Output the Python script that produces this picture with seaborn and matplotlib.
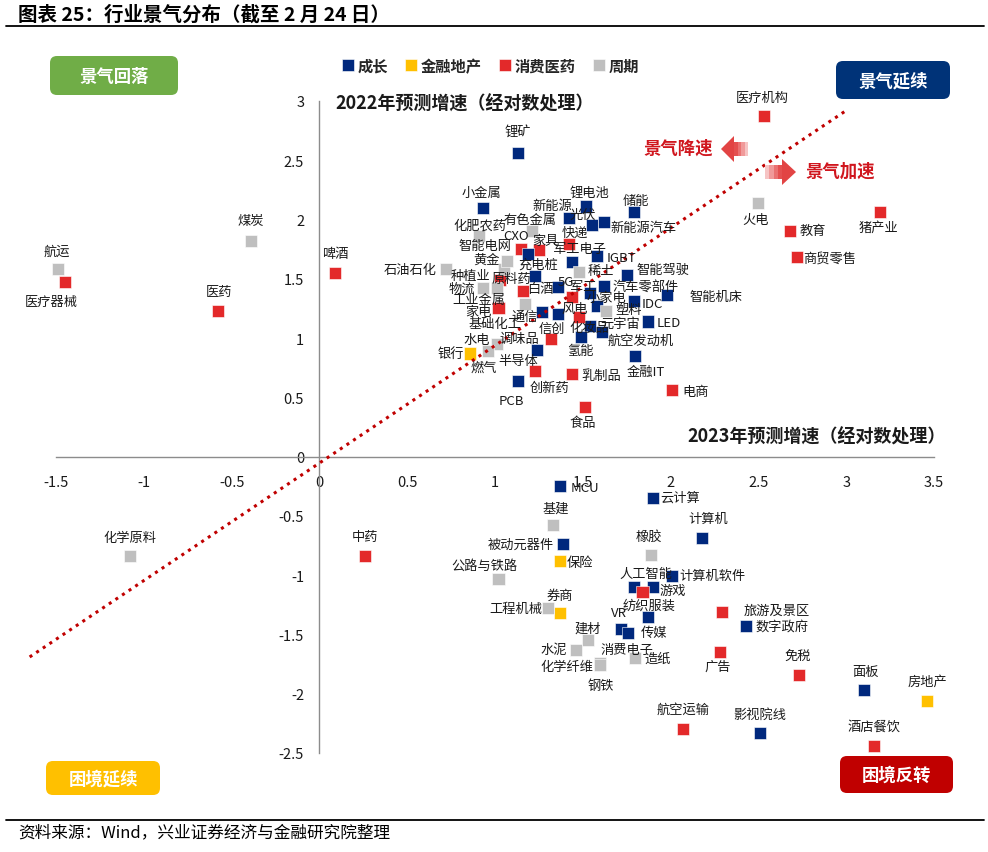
import matplotlib
matplotlib.use('Agg')
import matplotlib.pyplot as plt
from matplotlib.patches import FancyBboxPatch, Polygon
import seaborn as sns
import pandas as pd

# 行业景气分布 (截至2月24日)
names = ['医疗机构', '火电', '猪产业', '教育', '商贸零售', '锂矿', '小金属', '锂电池', '储能', '新能源',
         '光伏', '新能源汽车', '快递', '军工电子', 'IGBT', '稀土', '智能驾驶', '汽车零部件', '军工', '小家电',
         '风电', '塑料', 'IDC', '智能机床', 'LED', '元宇宙', '航空发动机', '化妆品', '信创', '通信',
         '白酒', '5G', '充电桩', '原料药', '种植业', '物流', '工业金属', '基础化工', '家电', '化肥农药',
         '有色金属', 'CXO', '家具', '智能电网', '黄金', '石油石化', '啤酒', '煤炭', '医药', '航运',
         '医疗器械', '银行', '水电', '燃气', '调味品', '半导体', '创新药', 'PCB', '乳制品', '氢能',
         '食品', '金融IT', '电商', 'MCU', '云计算', '基建', '计算机', '被动元器件', '橡胶', '保险',
         '公路与铁路', '计算机软件', '人工智能', '游戏', '纺织服装', '传媒', 'VR', '消费电子', '券商', '工程机械',
         '建材', '水泥', '化学纤维', '造纸', '钢铁', '化学原料', '中药', '旅游及景区', '数字政府', '广告',
         '免税', '面板', '房地产', '航空运输', '影视院线', '酒店餐饮']

growth_2023 = [2.53, 2.50, 3.19, 2.68, 2.72, 1.13, 0.93, 1.52, 1.79, 1.42,
               1.55, 1.62, 1.42, 1.44, 1.58, 1.48, 1.75, 1.62, 1.54, 1.44,
               1.58, 1.63, 1.79, 1.98, 1.87, 1.54, 1.61, 1.48, 1.36, 1.27,
               1.16, 1.36, 1.23, 1.03, 1.05, 0.93, 1.01, 1.17, 1.02, 0.91,
               1.21, 1.15, 1.25, 1.19, 1.07, 0.72, 0.09, -0.39, -0.58, -1.49,
               -1.45, 0.86, 1.01, 0.96, 1.32, 1.24, 1.23, 1.13, 1.44, 1.49,
               1.51, 1.80, 2.01, 1.37, 1.90, 1.33, 2.18, 1.39, 1.89, 1.37,
               1.02, 2.01, 1.79, 1.90, 1.84, 1.87, 1.72, 1.76, 1.37, 1.30,
               1.53, 1.46, 1.60, 1.80, 1.60, -1.08, 0.26, 2.29, 2.43, 2.28,
               2.73, 3.10, 3.46, 2.07, 2.51, 3.16]

growth_2022 = [2.87, 2.14, 2.06, 1.90, 1.68, 2.56, 2.10, 2.11, 2.06, 2.01,
               1.95, 1.98, 1.79, 1.64, 1.69, 1.56, 1.53, 1.44, 1.38, 1.35,
               1.27, 1.23, 1.31, 1.36, 1.14, 1.10, 1.05, 1.18, 1.20, 1.22,
               1.40, 1.43, 1.52, 1.49, 1.58, 1.42, 1.42, 1.29, 1.25, 1.86,
               1.90, 1.75, 1.74, 1.71, 1.65, 1.58, 1.55, 1.82, 1.23, 1.58,
               1.47, 0.87, 0.95, 0.89, 0.99, 0.90, 0.72, 0.64, 0.70, 1.01,
               0.42, 0.85, 0.56, -0.25, -0.35, -0.58, -0.69, -0.74, -0.83, -0.88,
               -1.03, -1.01, -1.10, -1.10, -1.14, -1.35, -1.45, -1.49, -1.32, -1.28,
               -1.55, -1.63, -1.74, -1.70, -1.76, -0.84, -0.84, -1.31, -1.43, -1.65,
               -1.84, -1.97, -2.06, -2.30, -2.33, -2.44]

# G=成长 F=金融地产 C=消费医药 P=周期
group_codes = ['C', 'P', 'C', 'C', 'C', 'G', 'G', 'G', 'G', 'G',
               'G', 'G', 'C', 'G', 'G', 'P', 'G', 'G', 'G', 'C',
               'G', 'P', 'G', 'G', 'G', 'G', 'G', 'C', 'G', 'G',
               'C', 'G', 'G', 'C', 'P', 'P', 'P', 'P', 'C', 'P',
               'P', 'C', 'C', 'G', 'P', 'P', 'C', 'P', 'C', 'P',
               'C', 'F', 'P', 'P', 'C', 'G', 'C', 'G', 'C', 'G',
               'C', 'G', 'C', 'G', 'G', 'P', 'G', 'G', 'P', 'F',
               'P', 'G', 'G', 'G', 'C', 'G', 'G', 'G', 'F', 'P',
               'P', 'P', 'P', 'P', 'P', 'P', 'C', 'C', 'G', 'C',
               'C', 'G', 'F', 'C', 'G', 'C']

group_names = {'G': '成长', 'F': '金融地产', 'C': '消费医药', 'P': '周期'}
hue_order = ['成长', '金融地产', '消费医药', '周期']
palette = {'成长': '#00287D', '金融地产': '#FFC000', '消费医药': '#E3292A', '周期': '#BFBFBF'}

# label offsets from the marker, in pixels (dx, dy)
label_offsets = [(-1, 19), (-3, -17), (-1, -15), (23, 1), (33, -1), (0, 21), (-1, 15), (3, 14), (2, 12), (-16, 13),
                 (-9, 11), (40, -6), (6, 12), (7, 14), (25, -1), (22, 1), (36, 6), (42, 0), (-7, 7), (34, -1),
                 (-22, -2), (23, 1), (19, -2), (49, -1), (21, -1), (30, 3), (39, -8), (10, -11), (-6, -14), (-18, -4),
                 (17, 2), (8, 6), (3, 12), (11, 2), (-33, -6), (-21, 0), (-18, -11), (-30, -20), (-20, -3), (1, 11),
                 (-2, 12), (-5, 14), (7, 10), (-43, 8), (-21, 2), (-36, 0), (0, 19), (0, 20), (1, 19), (-1, 18),
                 (-14, -19), (-20, 0), (-20, 5), (-4, -16), (-32, 1), (-19, -11), (14, -16), (-6, -20), (29, -2), (-1, -14),
                 (-2, -16), (10, -16), (23, -1), (25, -1), (27, 1), (3, 17), (6, 20), (-43, 0), (-2, 19), (20, -2),
                 (-14, 13), (40, 1), (12, 14), (20, -3), (7, -13), (6, -16), (-2, 16), (-1, -16), (0, 18), (-32, 0),
                 (0, 12), (-22, 0), (-33, -4), (22, 0), (0, -20), (0, 19), (0, 20), (55, 2), (36, 0), (-2, -14),
                 (-1, 19), (2, 19), (0, 20), (0, 20), (0, 19), (0, 20)]

df = pd.DataFrame({'name': names, 'x': growth_2023, 'y': growth_2022,
                   'group': [group_names[g] for g in group_codes]})

sns.set_theme(style='white')
plt.rcParams['font.family'] = ['Noto Sans CJK SC', 'DejaVu Sans']
plt.rcParams['axes.unicode_minus'] = False

W, H = 988, 853
fig = plt.figure(figsize=(W / 100, H / 100), dpi=100)
ax = fig.add_axes([56 / W, 1 - 754 / H, 878 / W, 652 / H])


def fx(px):
    return px / W


def fy(py):
    return 1 - py / H


sns.scatterplot(data=df, x='x', y='y', hue='group', hue_order=hue_order, palette=palette,
                marker='s', s=75, edgecolor='white', linewidth=0.4, ax=ax, zorder=2, clip_on=False)

# diagonal
ax.plot([-1.65, 2.99], [-1.69, 2.91], linestyle=(0, (1, 1.6)), color='#C00000', lw=2.2,
        zorder=3, clip_on=False)

for name, xv, yv, (dx, dy) in zip(names, growth_2023, growth_2022, label_offsets):
    ax.annotate(name, (xv, yv), xytext=(dx, dy), textcoords='offset pixels',
                ha='center', va='center', fontsize=9.5, color='#1a1a1a', zorder=4)

ax.set_xlim(-1.5, 3.5)
ax.set_ylim(-2.5, 3)
ax.set_xticks([i * 0.5 for i in range(-3, 8)])
ax.set_yticks([i * 0.5 for i in range(-5, 7)])
ax.set_xticklabels([f'{v:g}' for v in ax.get_xticks()])
ax.set_yticklabels([f'{v:g}' for v in ax.get_yticks()])
ax.spines['left'].set_position(('data', 0))
ax.spines['bottom'].set_position(('data', 0))
ax.spines['top'].set_visible(False)
ax.spines['right'].set_visible(False)
for sp in ['left', 'bottom']:
    ax.spines[sp].set_color('#8c8c8c')
    ax.spines[sp].set_linewidth(1)
ax.tick_params(axis='both', direction='out', length=5, width=1, color='#8c8c8c',
               labelsize=10.5, labelcolor='#1a1a1a', pad=8)
ax.tick_params(axis='y', pad=6)
ax.set_xlabel('')
ax.set_ylabel('')
ax.set_facecolor('none')

sns.move_legend(ax, 'center', bbox_to_anchor=(0.493, 1.054), ncol=4, frameon=False, title=None,
                handletextpad=0.05, columnspacing=0.9, markerscale=0.95, handlelength=1.2,
                prop={'weight': 'bold', 'size': 11})

# axis titles
fig.text(fx(335), fy(104), '2022年预测增速（经对数处理）', ha='left', va='center',
         fontsize=13, fontweight='bold', color='#1a1a1a')
fig.text(fx(946), fy(437), '2023年预测增速（经对数处理）', ha='right', va='center',
         fontsize=13, fontweight='bold', color='#1a1a1a')


def quadrant_box(x0, y0, x1, y1, color, text):
    patch = FancyBboxPatch((fx(x0), fy(y1)), fx(x1) - fx(x0), fy(y0) - fy(y1),
                           boxstyle='round,pad=0,rounding_size=0.007', mutation_aspect=W / H,
                           transform=fig.transFigure, facecolor=color, edgecolor='none')
    fig.add_artist(patch)
    fig.text(fx((x0 + x1) / 2), fy((y0 + y1) / 2), text, ha='center', va='center',
             fontsize=12.5, fontweight='bold', color='white')


quadrant_box(50, 57, 178, 96, '#70AD47', '景气回落')
quadrant_box(836, 62, 950, 100, '#003378', '景气延续')
quadrant_box(46, 762, 160, 796, '#FFC000', '困境延续')
quadrant_box(840, 757, 953, 794, '#C00000', '困境反转')


def poly(points, color):
    fig.add_artist(Polygon([(fx(px), fy(py)) for px, py in points], closed=True,
                           transform=fig.transFigure, facecolor=color, edgecolor='none'))


# fading arrows
shades = ['#F6C4C4', '#F09A9A', '#EA7272', '#E45050']
poly([(721, 150), (734, 137), (734, 163)], '#E24444')
for i, c in enumerate(shades[::-1]):
    poly([(734 + i * 3.5, 143), (737.5 + i * 3.5, 143), (737.5 + i * 3.5, 157), (734 + i * 3.5, 157)], c)
poly([(796, 173), (782, 160), (782, 186)], '#E24444')
for i, c in enumerate(shades):
    poly([(765 + i * 4.25, 166), (769.25 + i * 4.25, 166), (769.25 + i * 4.25, 180), (765 + i * 4.25, 180)], c)
fig.text(fx(678), fy(149), '景气降速', ha='center', va='center', fontsize=12.5,
         fontweight='bold', color='#D0161E')
fig.text(fx(840), fy(172), '景气加速', ha='center', va='center', fontsize=12.5,
         fontweight='bold', color='#D0161E')

# header / footer
fig.text(fx(18), fy(15), '图表 25：行业景气分布（截至 2 月 24 日）', ha='left', va='center',
         fontsize=14, fontweight='bold', color='black')
fig.add_artist(plt.Line2D([fx(6), fx(984)], [fy(27), fy(27)], color='black', lw=1.3,
                          transform=fig.transFigure))
fig.add_artist(plt.Line2D([fx(6), fx(984)], [fy(821), fy(821)], color='black', lw=1.3,
                          transform=fig.transFigure))
fig.text(fx(18), fy(833), '资料来源：Wind，兴业证券经济与金融研究院整理', ha='left', va='center',
         fontsize=12, color='black')

fig.savefig('out.png', dpi=100)
